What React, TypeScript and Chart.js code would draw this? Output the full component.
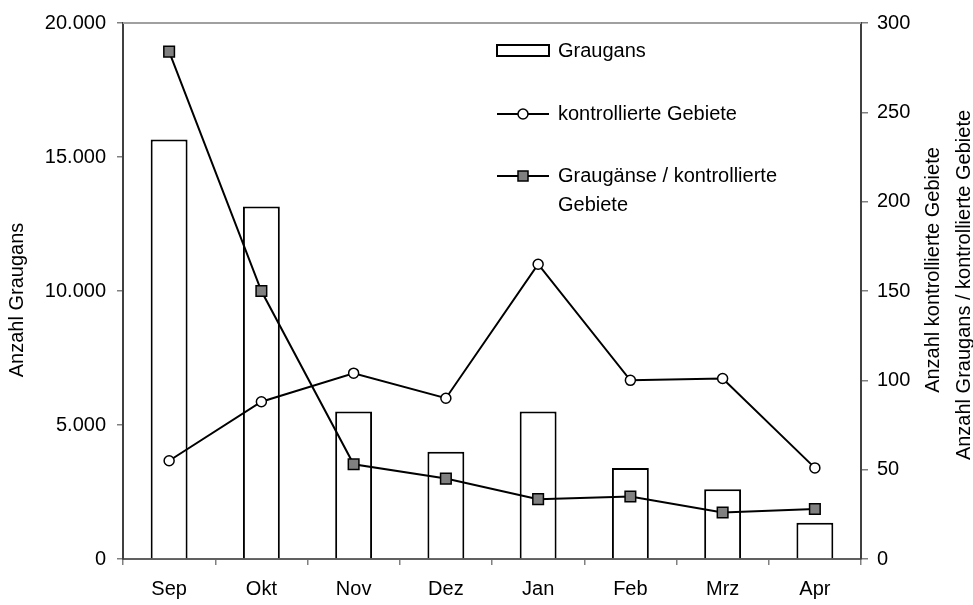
import React, { useEffect, useRef } from 'react';
import { Chart, registerables } from 'chart.js';

Chart.register(...registerables);

const months = ['Sep', 'Okt', 'Nov', 'Dez', 'Jan', 'Feb', 'Mrz', 'Apr'];
const graugans = [15650, 13150, 5500, 4000, 5500, 3400, 2600, 1350];
const gebiete = [55, 88, 104, 90, 165, 100, 101, 51];
const proGebiet = [284, 150, 53, 45, 33.5, 35, 26, 28];

const leftMax = 20000;
const leftStep = 5000;
const rightMax = 300;
const rightStep = 50;

const FONT = '"Liberation Sans", Arial, sans-serif';
const FS = 20;

const fmt = (v: number) => String(v).replace(/\B(?=(\d{3})+(?!\d))/g, '.');

const decorPlugin = {
  id: 'decor',
  afterDatasetsDraw(chart: any) {
    const { ctx, chartArea } = chart;
    ctx.save();
    // top border
    ctx.strokeStyle = '#a0a0a0';
    ctx.lineWidth = 2;
    ctx.beginPath();
    ctx.moveTo(chartArea.left, chartArea.top);
    ctx.lineTo(chartArea.right, chartArea.top);
    ctx.stroke();

    // legend
    ctx.font = `${FS}px ${FONT}`;
    ctx.fillStyle = '#000';
    ctx.textAlign = 'left';
    ctx.textBaseline = 'middle';
    // bar item
    ctx.fillStyle = '#fff';
    ctx.fillRect(497, 45, 52, 11);
    ctx.strokeStyle = '#000';
    ctx.lineWidth = 2;
    ctx.strokeRect(497, 45, 52, 11);
    ctx.fillStyle = '#000';
    ctx.fillText('Graugans', 558, 51);
    // circle item
    ctx.beginPath();
    ctx.moveTo(497, 114);
    ctx.lineTo(549, 114);
    ctx.stroke();
    ctx.beginPath();
    ctx.arc(523, 114, 5, 0, Math.PI * 2);
    ctx.fillStyle = '#fff';
    ctx.fill();
    ctx.lineWidth = 1.5;
    ctx.stroke();
    ctx.fillStyle = '#000';
    ctx.fillText('kontrollierte Gebiete', 558, 114);
    // square item
    ctx.lineWidth = 2;
    ctx.beginPath();
    ctx.moveTo(497, 176);
    ctx.lineTo(549, 176);
    ctx.stroke();
    ctx.fillStyle = '#808080';
    ctx.fillRect(518, 171, 10, 10);
    ctx.lineWidth = 1.5;
    ctx.strokeRect(518, 171, 10, 10);
    ctx.fillStyle = '#000';
    ctx.fillText('Graugänse / kontrollierte', 558, 176);
    ctx.fillText('Gebiete', 558, 205);
    ctx.restore();
  },
  afterDraw(chart: any) {
    const { ctx } = chart;
    ctx.save();
    ctx.font = `${FS}px ${FONT}`;
    ctx.fillStyle = '#000';
    ctx.textAlign = 'center';
    ctx.textBaseline = 'middle';
    const drawV = (t: string, x: number, y: number) => {
      ctx.save();
      ctx.translate(x, y);
      ctx.rotate(-Math.PI / 2);
      ctx.fillText(t, 0, 0);
      ctx.restore();
    };
    drawV('Anzahl Graugans', 17, 300);
    drawV('Anzahl kontrollierte Gebiete', 933, 270);
    drawV('Anzahl Graugans / kontrollierte Gebiete', 964, 285);
    ctx.restore();
  },
};

export default function App() {
  const ref = useRef<HTMLCanvasElement | null>(null);
  useEffect(() => {
    document.body.style.margin = '0';
    if (!ref.current) return;
    const chart = new Chart(ref.current, {
      type: 'bar',
      data: {
        labels: months,
        datasets: [
          {
            type: 'line',
            label: 'Graugänse / kontrollierte Gebiete',
            data: proGebiet,
            yAxisID: 'y1',
            borderColor: '#000',
            borderWidth: 2,
            pointStyle: 'rect',
            pointRadius: 7.5,
            pointBackgroundColor: '#808080',
            pointBorderColor: '#000',
            pointBorderWidth: 1.5,
            order: 1,
          } as any,
          {
            type: 'line',
            label: 'kontrollierte Gebiete',
            data: gebiete,
            yAxisID: 'y1',
            borderColor: '#000',
            borderWidth: 2,
            pointStyle: 'circle',
            pointRadius: 5,
            pointBackgroundColor: '#fff',
            pointBorderColor: '#000',
            pointBorderWidth: 1.5,
            order: 2,
          } as any,
          {
            type: 'bar',
            label: 'Graugans',
            data: graugans,
            yAxisID: 'y',
            backgroundColor: '#fff',
            borderColor: '#000',
            borderWidth: 2,
            barPercentage: 0.4,
            categoryPercentage: 1.0,
            order: 3,
          } as any,
        ],
      },
      options: {
        responsive: false,
        animation: false,
        devicePixelRatio: 1,
        layout: { padding: { top: 19, left: 0, right: 0, bottom: 0 } },
        plugins: { legend: { display: false }, tooltip: { enabled: false } },
        scales: {
          x: {
            offset: true,
            grid: { display: true, drawOnChartArea: false, offset: true, tickLength: 6, color: '#808080', lineWidth: 1.5 },
            border: { display: true, color: '#606060', width: 2 },
            ticks: { color: '#000', font: { family: FONT, size: FS }, padding: 12 },
            afterFit: (s: any) => { s.height = 46; },
          },
          y: {
            position: 'left',
            min: 0,
            max: leftMax,
            grid: { display: true, drawOnChartArea: false, tickLength: 6, color: '#808080', lineWidth: 1.5 },
            border: { display: true, color: '#404040', width: 2 },
            ticks: { stepSize: leftStep, color: '#000', font: { family: FONT, size: FS }, padding: 11, callback: (v: any) => fmt(Number(v)) },
            afterFit: (s: any) => { s.width = 123; },
          },
          y1: {
            position: 'right',
            min: 0,
            max: rightMax,
            grid: { display: true, drawOnChartArea: false, tickLength: 7, color: '#808080', lineWidth: 1.5 },
            border: { display: true, color: '#404040', width: 2 },
            ticks: { stepSize: rightStep, color: '#000', font: { family: FONT, size: FS }, padding: 9 },
            afterFit: (s: any) => { s.width = 112; },
          },
        },
      },
      plugins: [decorPlugin],
    });
    return () => chart.destroy();
  }, []);
  return (
    <div style={{ width: 973, height: 605 }}>
      <canvas ref={ref} width={973} height={605} style={{ display: 'block' }} />
    </div>
  );
}
